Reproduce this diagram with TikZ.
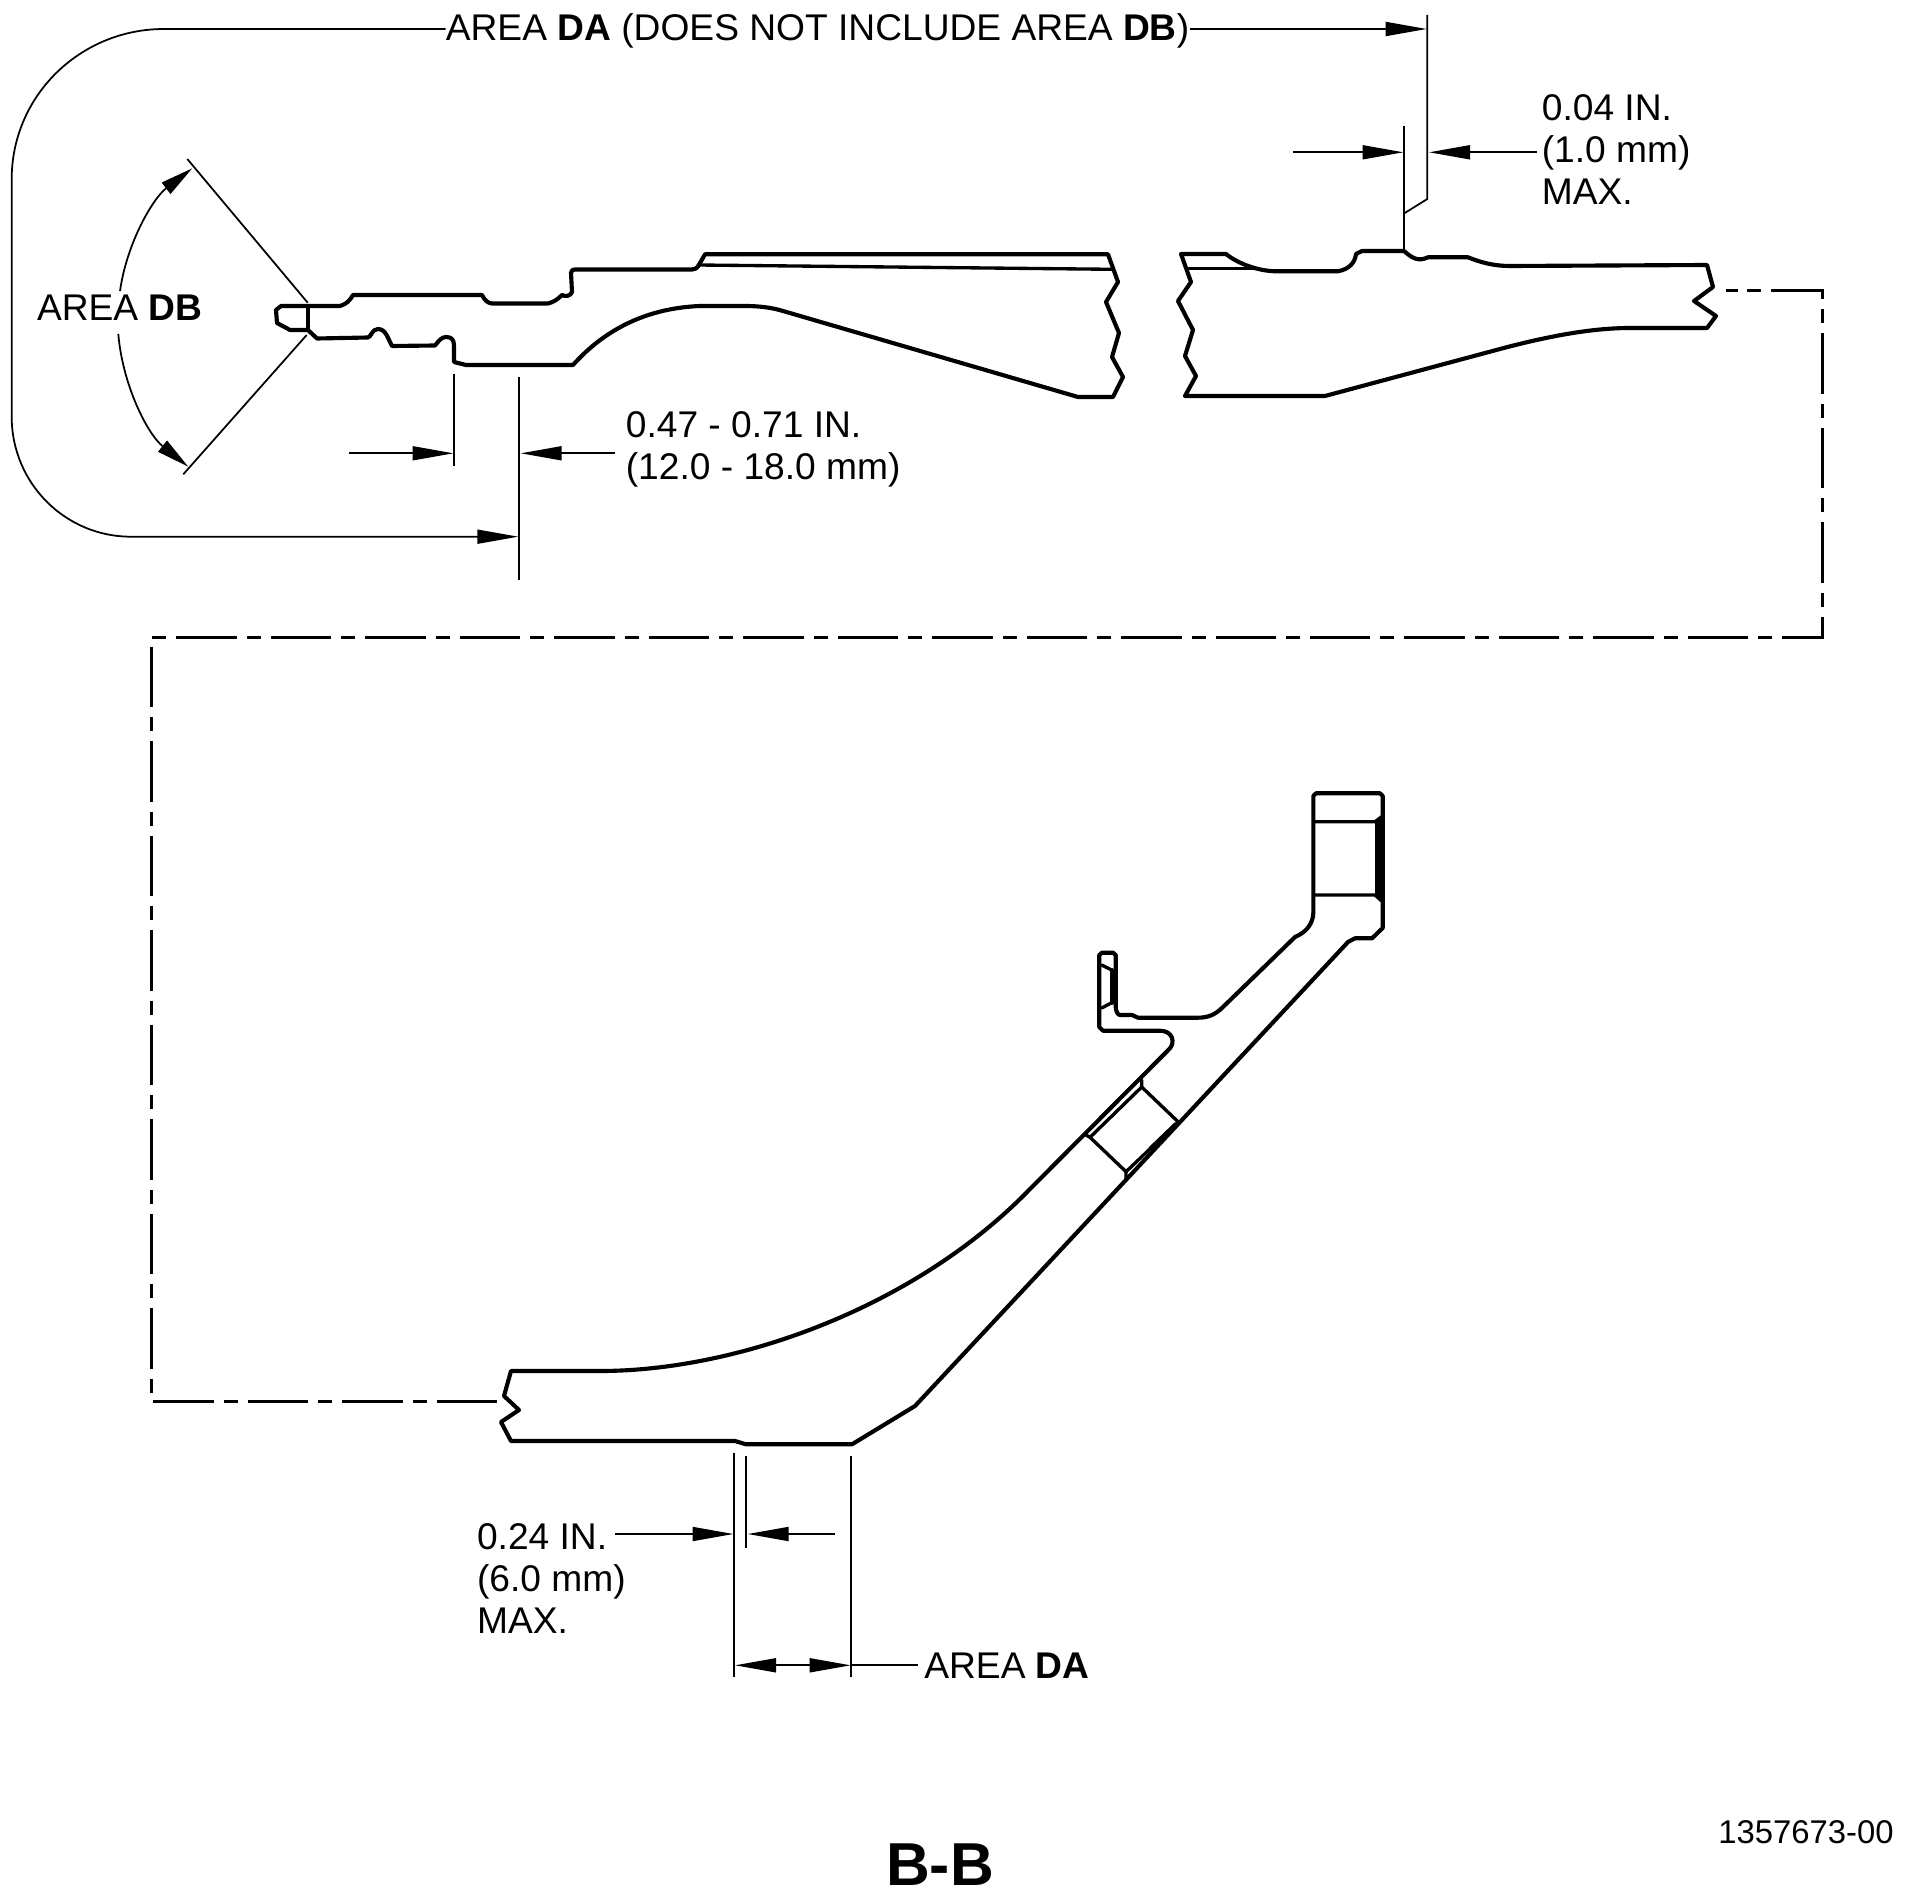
\documentclass[tikz,border=0pt]{standalone}
\usepackage{fontspec}
\setmainfont{Liberation Sans}
\usetikzlibrary{arrows.meta}

\tikzset{
  partline/.style={line width=2.35pt, line join=round, line cap=round},
  innerline/.style={line width=1.9pt, line join=round, line cap=round},
  dimline/.style={line width=1pt},
  dimtip/.style={-{Triangle[length=0.82cm, width=0.28cm]}},
  arctip/.style={-{Triangle[length=0.66cm, width=0.28cm]}},
  bothtip/.style={{Triangle[length=0.82cm, width=0.28cm]}-{Triangle[length=0.82cm, width=0.28cm]}},
  cutline/.style={line width=1.7pt, dash pattern=on 0.28cm off 0.2cm on 1.21cm off 0.2cm},
  dimtext/.style={font=\fontsize{21.15}{23.9}\selectfont, inner sep=0pt, align=left}
}

\begin{document}
\begin{tikzpicture}[x=0.02cm, y=-0.02cm]

\useasboundingbox (0,0) rectangle (1907,1902);

% left piece of the section
\draw[partline] (308,306) -- (340,306) .. controls (347,304) and (350,300) .. (353,295)
  -- (482,295) .. controls (485,301) and (488,303) .. (492,303.5) -- (548,303.5)
  .. controls (554,302) and (558,299) .. (562,295) .. controls (565,297) and (571,296) .. (572,292)
  -- (571,273) .. controls (571,270) and (573,269.5) .. (575,269.5) -- (692,269.5)
  .. controls (695,269.5) and (697,268) .. (698,266.5) -- (705,254.3) -- (1108,254.3)
  -- (1118,282) -- (1106,302) -- (1119,333) -- (1112,357) -- (1123,377) -- (1113,397) -- (1078,397)
  -- (783,311) .. controls (763,305) and (745,306) .. (727,306) -- (700,306)
  .. controls (650,308) and (607,327) .. (573,365) -- (466,365) -- (454,362) -- (454,346)
  .. controls (454,340) and (452,337) .. (446,337) .. controls (441,337) and (438,342) .. (435,345.5)
  -- (392,346) .. controls (388,339) and (386,329) .. (378,329) .. controls (372,329) and (371,337) .. (368,337.5)
  -- (317,338.5) -- (308,330) -- (290,330) -- (277,323) -- (276,310) -- (281,306) -- cycle;
\draw[partline] (308,306) -- (308,330);
\draw[innerline] (698,265) -- (1112,269.3);

% right piece of the section
\draw[partline] (1181,254) -- (1226,254) .. controls (1237,263) and (1257,271) .. (1276,271.3) -- (1338,271.3)
  .. controls (1350,269) and (1355,262) .. (1356,254) -- (1362,251) -- (1404,251)
  .. controls (1412,258) and (1418,262) .. (1428,257.3) -- (1468,257.3)
  .. controls (1482,263) and (1495,266) .. (1510,266) -- (1707,265) -- (1713,287) -- (1694,301)
  -- (1716,316) -- (1707,328) -- (1630,328) .. controls (1590,328) and (1545,337) .. (1500,349) -- (1325,396)
  -- (1185,396) -- (1196,376) -- (1185,356) -- (1193,330) -- (1178,301) -- (1191,282) -- cycle;
\draw[innerline] (1187,268.3) -- (1253,268.3);

% lower section
\draw[partline] (511,1371) -- (600,1371) .. controls (738,1371) and (916,1307) .. (1030,1189)
  -- (1170,1048.3) .. controls (1175,1042) and (1173,1031) .. (1160,1030.7) -- (1103,1030.7)
  -- (1099.3,1027) -- (1099.3,955) -- (1102,952.7) -- (1113,952.7) -- (1115.7,955) -- (1115.7,1007)
  .. controls (1116,1012) and (1118,1015) .. (1120,1015) -- (1132,1015) -- (1138,1017.7) -- (1198,1017.7)
  .. controls (1209,1017.7) and (1216,1014) .. (1223,1007) -- (1295,937)
  .. controls (1307,932) and (1313,923) .. (1313.3,913) -- (1313.3,796) -- (1316,793.3) -- (1380,793.3)
  -- (1382.7,796) -- (1382.7,928) -- (1372,938.3) -- (1355,938.3) -- (1348,942) -- (915,1406) -- (852,1444.3)
  -- (746,1444.3) -- (735,1441) -- (511,1441) -- (501,1422) -- (519,1410) -- (504,1396) -- cycle;

% details of the lower section
\draw[innerline] (1315,821.7) -- (1375,821.7) -- (1381.7,816.7);
\draw[innerline] (1315,895) -- (1375,895) -- (1381.7,901);
\draw[innerline] (1376.7,821.7) -- (1376.7,895);
\draw[innerline] (1380,820) -- (1380,897);
\draw[innerline] (1101.7,965) -- (1111.7,970);
\draw[innerline] (1101.7,1008) -- (1111.7,1002.7);
\draw[partline] (1111.7,970) -- (1111.7,1003);
\draw[innerline] (1086,1135) -- (1090,1137.3) -- (1141.7,1087) -- (1141.7,1080);
\draw[innerline] (1090,1137.3) -- (1126,1171.7) -- (1126,1180);
\draw[innerline] (1141.7,1087) -- (1178.3,1122);
\draw[innerline] (1126,1171.7) -- (1178.3,1122);
\draw[line width=2.4pt] (1150,1149) -- (1176,1124);

% cutting line between the two views
\draw[cutline] (1726,290.3) -- (1738,290.3);
\draw[cutline] (1747,290.3) -- (1822.3,290.3) -- (1822.3,637.5) -- (151.5,637.5) -- (151.5,1401) -- (501,1401);

% labels
\node[dimtext, anchor=base] (areaDAtop) at (817.5,41) {AREA \textbf{DA} (DOES NOT INCLUDE AREA \textbf{DB})};
\node[dimtext, anchor=base west] (areaDB) at (36.7,320.7) {AREA \textbf{DB}};
\node[dimtext, anchor=north west] (maxtop) at (1541.5,94.5) {0.04 IN.\\(1.0 mm)\\MAX.};
\node[dimtext, anchor=north west] (rangeleft) at (625.5,411) {0.47 - 0.71 IN.\\(12.0 - 18.0 mm)};
\node[dimtext, anchor=north west] (maxlow) at (476.7,1523.5) {0.24 IN.\\(6.0 mm)\\MAX.};
\node[dimtext, anchor=base west] (areaDAlow) at (924,1678.5) {AREA \textbf{DA}};
\node[font=\fontsize{34.5}{40}\selectfont\bfseries, inner sep=0pt, anchor=base] (view) at (940,1885) {B-B};
\node[font=\fontsize{18.7}{20}\selectfont, inner sep=0pt, anchor=base east] (partno) at (1894,1843) {1357673-00};

% area DA leader
\coordinate (toptip) at (1426.7,29);
\coordinate (lowtip) at (518.3,536.7);
\draw[dimline, dimtip] (areaDAtop.east |- toptip) -- (toptip);
\draw[dimline, dimtip] (areaDAtop.west |- toptip) -- (164,29) .. controls (80,29) and (11.7,96) .. (11.7,179)
  -- (11.7,416.7) .. controls (11.7,483) and (65,536.7) .. (131,536.7) -- (lowtip);

% extension lines top right
\draw[dimline] (1427.3,15) -- (1427.3,199) -- (1404.3,213.3);
\draw[dimline] (1404.3,126) -- (1404.3,251);
\coordinate (maxfree) at (1293.3,152.3);
\coordinate (maxtipa) at (1403.5,152.3);
\coordinate (maxtipb) at (1429,152.3);
\coordinate (maxback) at (1536.7,152.3);
\draw[dimline, dimtip] (maxfree) -- (maxtipa);
\draw[dimline, dimtip] (maxback) -- (maxtipb);

% extension lines left
\draw[dimline] (454.3,374) -- (454.3,465.7);
\draw[dimline] (519.3,377) -- (519.3,580);
\coordinate (rangefree) at (348.7,453.3);
\coordinate (rangetipa) at (453.5,453.3);
\coordinate (rangetipb) at (520.7,453.3);
\coordinate (rangeback) at (615.3,453.3);
\draw[dimline, dimtip] (rangefree) -- (rangetipa);
\draw[dimline, dimtip] (rangeback) -- (rangetipb);

% angle of area DB
\draw[dimline] (187.3,159) -- (307.7,302.7);
\draw[dimline] (183.3,474.3) -- (306.7,335);
\draw[dimline, arctip] (120,291) .. controls (127,242.2) and (153.1,198.2) .. (192.3,168.3);
\draw[dimline, arctip] (118.3,334) .. controls (122.7,385.8) and (147.7,434.3) .. (188.3,466.7);

% extension lines bottom
\draw[dimline] (734.3,1453.3) -- (734.3,1677.3);
\draw[dimline] (746,1456) -- (746,1548.3);
\draw[dimline] (851.3,1456) -- (851.3,1677.3);
\coordinate (lowtipa) at (733.5,1534);
\coordinate (lowtipb) at (747.7,1534);
\coordinate (lowfree) at (835,1534);
\coordinate (lowback) at (615,1534);
\draw[dimline, dimtip] (lowback) -- (lowtipa);
\draw[dimline, dimtip] (lowfree) -- (lowtipb);
\coordinate (spana) at (735,1665.3);
\coordinate (spanb) at (850.7,1665.3);
\coordinate (spanend) at (917.7,1665.3);
\draw[dimline, bothtip] (spana) -- (spanb);
\draw[dimline] (spanb) -- (spanend);

\end{tikzpicture}
\end{document}
